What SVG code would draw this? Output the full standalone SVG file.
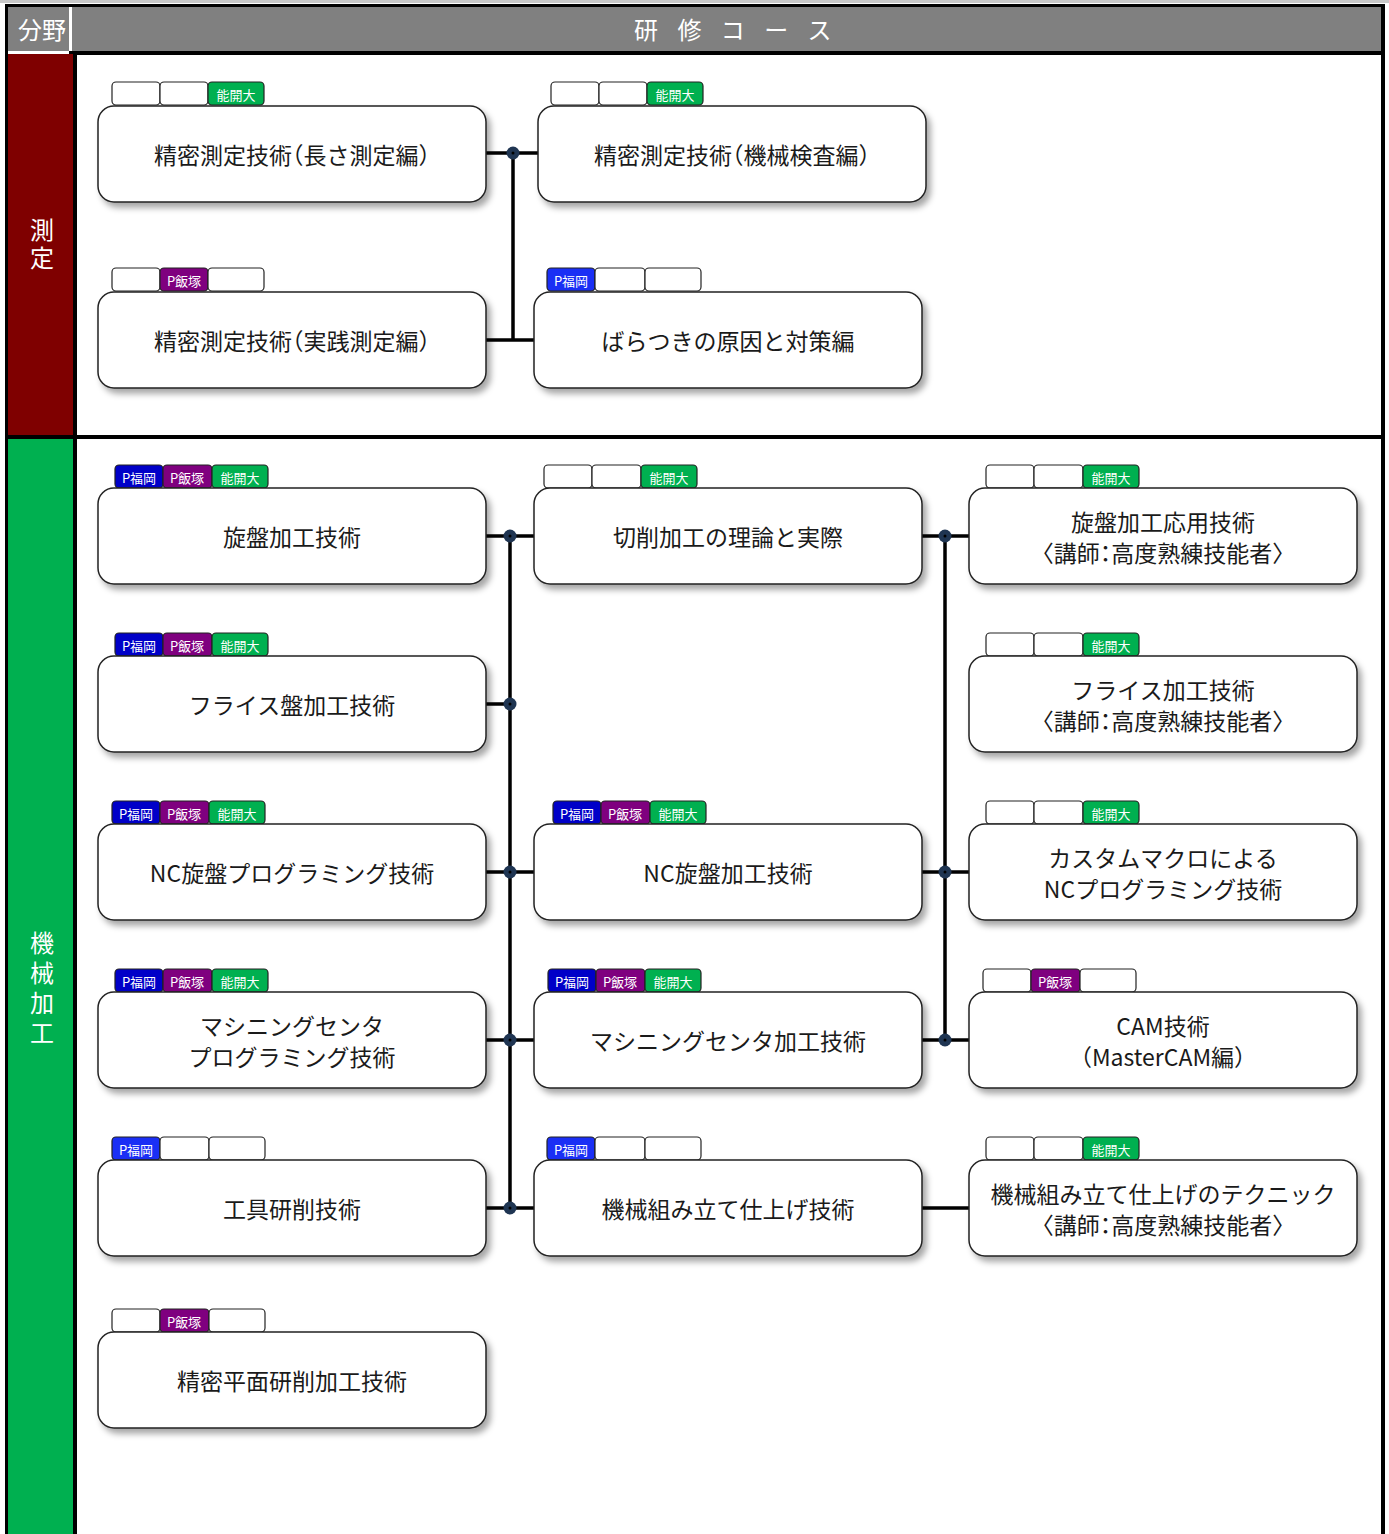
<svg xmlns="http://www.w3.org/2000/svg" width="1389" height="1534" viewBox="0 0 1389 1534">
<defs>
<filter id="sh" x="-10%" y="-20%" width="125%" height="150%">
<feDropShadow dx="4" dy="5" stdDeviation="3" flood-color="#000" flood-opacity="0.35"/>
</filter>
<style>
.node{fill:#fff;stroke:#222;stroke-width:1.5;filter:url(#sh)}
.lbl{font-family:"Noto Sans CJK JP","Noto Sans",sans-serif;font-size:23px;fill:#1a1a1a;text-anchor:middle;dominant-baseline:central}
.h{font-feature-settings:"halt"}
.tag{stroke:#222;stroke-width:1.2}
.tt{font-family:"Noto Sans CJK JP","Noto Sans",sans-serif;font-size:13px;fill:#fff;text-anchor:middle;dominant-baseline:central}
.e{fill:#fff}.g{fill:#00b050}.p{fill:#7f007f}.b{fill:#0000c8}.bb{fill:#1a2ff5}
.ln{stroke:#000;stroke-width:3.5;fill:none}
.dot{fill:#1f3552}
.cen{fill:#000}
.hd{font-family:"Noto Sans CJK JP","Noto Sans",sans-serif;font-size:24px;fill:#fff;dominant-baseline:central}
.vt{font-family:"Noto Sans CJK JP","Noto Sans",sans-serif;font-size:24px;fill:#fff;writing-mode:vertical-rl;text-anchor:middle}
</style>
</defs>
<g id="frame">
<rect x="0" y="0" width="1389" height="1534" fill="#fff"/>
<rect x="0" y="0" width="1389" height="3" fill="#c8c8c8"/>
<rect x="5" y="4" width="1380" height="1530" fill="#000"/>
<rect x="8" y="7" width="61" height="44" fill="#808080"/>
<rect x="69" y="7" width="3" height="44" fill="#fff"/>
<rect x="72" y="7" width="1309" height="44" fill="#808080"/>
<rect x="8" y="51" width="61" height="3" fill="#fff"/>
<rect x="8" y="54" width="65" height="381" fill="#7f0000"/>
<rect x="8" y="439" width="65" height="1095" fill="#00b050"/>
<rect x="77" y="55" width="1304" height="380" fill="#fff"/>
<rect x="77" y="439" width="1304" height="1095" fill="#fff"/>
<text class="hd" x="42" y="28" text-anchor="middle">分野</text>
<text class="hd" x="634" y="28" style="letter-spacing:7px">研 修 コ ー ス</text>
<text class="vt" x="42" y="246" style="letter-spacing:4px">測定</text>
<text class="vt" x="42" y="991" style="letter-spacing:6px">機械加工</text>
</g>
<g id="connectors">
<path class="ln" d="M486 153H538M513 153V340M486 340H534"/>
<path class="ln" d="M510 536V1208M486 536H534M486 704H510M486 872H534M486 1040H534M486 1208H534"/>
<path class="ln" d="M945 536V1040M922 536H969M922 872H969M922 1040H969M922 1208H969"/>
<g>
<circle class="dot" cx="513" cy="153" r="6.5"/><circle class="cen" cx="513" cy="153" r="1.5"/>
<circle class="dot" cx="510" cy="536" r="6.5"/><circle class="cen" cx="510" cy="536" r="1.5"/>
<circle class="dot" cx="510" cy="704" r="6.5"/><circle class="cen" cx="510" cy="704" r="1.5"/>
<circle class="dot" cx="510" cy="872" r="6.5"/><circle class="cen" cx="510" cy="872" r="1.5"/>
<circle class="dot" cx="510" cy="1040" r="6.5"/><circle class="cen" cx="510" cy="1040" r="1.5"/>
<circle class="dot" cx="510" cy="1208" r="6.5"/><circle class="cen" cx="510" cy="1208" r="1.5"/>
<circle class="dot" cx="945" cy="536" r="6.5"/><circle class="cen" cx="945" cy="536" r="1.5"/>
<circle class="dot" cx="945" cy="872" r="6.5"/><circle class="cen" cx="945" cy="872" r="1.5"/>
<circle class="dot" cx="945" cy="1040" r="6.5"/><circle class="cen" cx="945" cy="1040" r="1.5"/>
</g>
</g>

<g id="n-len">
<rect class="tag e" x="112" y="82" width="48" height="23" rx="4"/>
<rect class="tag e" x="160" y="82" width="48" height="23" rx="4"/>
<rect class="tag g" x="208" y="82" width="56" height="23" rx="4"/><text class="tt" x="236" y="94">能開大</text>
<rect class="node" x="98" y="106" width="388" height="96" rx="16"/>
<text class="lbl" x="292" y="154">精密測定技術<tspan class="h">（</tspan>長さ測定編<tspan class="h">）</tspan></text>
</g>
<g id="n-insp">
<rect class="tag e" x="551" y="82" width="48" height="23" rx="4"/>
<rect class="tag e" x="599" y="82" width="48" height="23" rx="4"/>
<rect class="tag g" x="647" y="82" width="56" height="23" rx="4"/><text class="tt" x="675" y="94">能開大</text>
<rect class="node" x="538" y="106" width="388" height="96" rx="16"/>
<text class="lbl" x="732" y="154">精密測定技術<tspan class="h">（</tspan>機械検査編<tspan class="h">）</tspan></text>
</g>
<g id="n-prac">
<rect class="tag e" x="112" y="268" width="48" height="23" rx="4"/>
<rect class="tag p" x="160" y="268" width="48" height="23" rx="4"/><text class="tt" x="184" y="280">P飯塚</text>
<rect class="tag e" x="208" y="268" width="56" height="23" rx="4"/>
<rect class="node" x="98" y="292" width="388" height="96" rx="16"/>
<text class="lbl" x="292" y="340">精密測定技術<tspan class="h">（</tspan>実践測定編<tspan class="h">）</tspan></text>
</g>
<g id="n-var">
<rect class="tag bb" x="547" y="268" width="48" height="23" rx="4"/><text class="tt" x="571" y="280">P福岡</text>
<rect class="tag e" x="595" y="268" width="50" height="23" rx="4"/>
<rect class="tag e" x="645" y="268" width="56" height="23" rx="4"/>
<rect class="node" x="534" y="292" width="388" height="96" rx="16"/>
<text class="lbl" x="728" y="340">ばらつきの原因と対策編</text>
</g>

<g id="n-lathe">
<rect class="tag b" x="115" y="465" width="48" height="23" rx="4"/><text class="tt" x="139" y="477">P福岡</text>
<rect class="tag p" x="163" y="465" width="49" height="23" rx="4"/><text class="tt" x="187" y="477">P飯塚</text>
<rect class="tag g" x="212" y="465" width="56" height="23" rx="4"/><text class="tt" x="240" y="477">能開大</text>
<rect class="node" x="98" y="488" width="388" height="96" rx="16"/>
<text class="lbl" x="292" y="536">旋盤加工技術</text>
</g>
<g id="n-mill">
<rect class="tag b" x="115" y="633" width="48" height="23" rx="4"/><text class="tt" x="139" y="645">P福岡</text>
<rect class="tag p" x="163" y="633" width="49" height="23" rx="4"/><text class="tt" x="187" y="645">P飯塚</text>
<rect class="tag g" x="212" y="633" width="56" height="23" rx="4"/><text class="tt" x="240" y="645">能開大</text>
<rect class="node" x="98" y="656" width="388" height="96" rx="16"/>
<text class="lbl" x="292" y="704">フライス盤加工技術</text>
</g>
<g id="n-ncprog">
<rect class="tag b" x="112" y="801" width="48" height="23" rx="4"/><text class="tt" x="136" y="813">P福岡</text>
<rect class="tag p" x="160" y="801" width="49" height="23" rx="4"/><text class="tt" x="184" y="813">P飯塚</text>
<rect class="tag g" x="209" y="801" width="56" height="23" rx="4"/><text class="tt" x="237" y="813">能開大</text>
<rect class="node" x="98" y="824" width="388" height="96" rx="16"/>
<text class="lbl" x="292" y="872">NC旋盤プログラミング技術</text>
</g>
<g id="n-mcprog">
<rect class="tag b" x="115" y="969" width="48" height="23" rx="4"/><text class="tt" x="139" y="981">P福岡</text>
<rect class="tag p" x="163" y="969" width="49" height="23" rx="4"/><text class="tt" x="187" y="981">P飯塚</text>
<rect class="tag g" x="212" y="969" width="56" height="23" rx="4"/><text class="tt" x="240" y="981">能開大</text>
<rect class="node" x="98" y="992" width="388" height="96" rx="16"/>
<text class="lbl" x="292" y="1025">マシニングセンタ</text>
<text class="lbl" x="292" y="1056">プログラミング技術</text>
</g>
<g id="n-tool">
<rect class="tag bb" x="112" y="1137" width="48" height="23" rx="4"/><text class="tt" x="136" y="1149">P福岡</text>
<rect class="tag e" x="160" y="1137" width="49" height="23" rx="4"/>
<rect class="tag e" x="209" y="1137" width="56" height="23" rx="4"/>
<rect class="node" x="98" y="1160" width="388" height="96" rx="16"/>
<text class="lbl" x="292" y="1208">工具研削技術</text>
</g>
<g id="n-surf">
<rect class="tag e" x="112" y="1309" width="48" height="23" rx="4"/>
<rect class="tag p" x="160" y="1309" width="49" height="23" rx="4"/><text class="tt" x="184" y="1321">P飯塚</text>
<rect class="tag e" x="209" y="1309" width="56" height="23" rx="4"/>
<rect class="node" x="98" y="1332" width="388" height="96" rx="16"/>
<text class="lbl" x="292" y="1380">精密平面研削加工技術</text>
</g>

<g id="n-cut">
<rect class="tag e" x="544" y="465" width="48" height="23" rx="4"/>
<rect class="tag e" x="592" y="465" width="49" height="23" rx="4"/>
<rect class="tag g" x="641" y="465" width="56" height="23" rx="4"/><text class="tt" x="669" y="477">能開大</text>
<rect class="node" x="534" y="488" width="388" height="96" rx="16"/>
<text class="lbl" x="728" y="536">切削加工の理論と実際</text>
</g>
<g id="n-nclathe">
<rect class="tag b" x="553" y="801" width="48" height="23" rx="4"/><text class="tt" x="577" y="813">P福岡</text>
<rect class="tag p" x="601" y="801" width="49" height="23" rx="4"/><text class="tt" x="625" y="813">P飯塚</text>
<rect class="tag g" x="650" y="801" width="56" height="23" rx="4"/><text class="tt" x="678" y="813">能開大</text>
<rect class="node" x="534" y="824" width="388" height="96" rx="16"/>
<text class="lbl" x="728" y="872">NC旋盤加工技術</text>
</g>
<g id="n-mc">
<rect class="tag b" x="548" y="969" width="48" height="23" rx="4"/><text class="tt" x="572" y="981">P福岡</text>
<rect class="tag p" x="596" y="969" width="49" height="23" rx="4"/><text class="tt" x="620" y="981">P飯塚</text>
<rect class="tag g" x="645" y="969" width="56" height="23" rx="4"/><text class="tt" x="673" y="981">能開大</text>
<rect class="node" x="534" y="992" width="388" height="96" rx="16"/>
<text class="lbl" x="728" y="1040">マシニングセンタ加工技術</text>
</g>
<g id="n-assy">
<rect class="tag bb" x="547" y="1137" width="48" height="23" rx="4"/><text class="tt" x="571" y="1149">P福岡</text>
<rect class="tag e" x="595" y="1137" width="50" height="23" rx="4"/>
<rect class="tag e" x="645" y="1137" width="56" height="23" rx="4"/>
<rect class="node" x="534" y="1160" width="388" height="96" rx="16"/>
<text class="lbl" x="728" y="1208">機械組み立て仕上げ技術</text>
</g>

<g id="n-latheadv">
<rect class="tag e" x="986" y="465" width="48" height="23" rx="4"/>
<rect class="tag e" x="1034" y="465" width="49" height="23" rx="4"/>
<rect class="tag g" x="1083" y="465" width="56" height="23" rx="4"/><text class="tt" x="1111" y="477">能開大</text>
<rect class="node" x="969" y="488" width="388" height="96" rx="16"/>
<text class="lbl" x="1163" y="521">旋盤加工応用技術</text>
<text class="lbl" x="1163" y="552">〈講師<tspan class="h">：</tspan>高度熟練技能者〉</text>
</g>
<g id="n-milladv">
<rect class="tag e" x="986" y="633" width="48" height="23" rx="4"/>
<rect class="tag e" x="1034" y="633" width="49" height="23" rx="4"/>
<rect class="tag g" x="1083" y="633" width="56" height="23" rx="4"/><text class="tt" x="1111" y="645">能開大</text>
<rect class="node" x="969" y="656" width="388" height="96" rx="16"/>
<text class="lbl" x="1163" y="689">フライス加工技術</text>
<text class="lbl" x="1163" y="720">〈講師<tspan class="h">：</tspan>高度熟練技能者〉</text>
</g>
<g id="n-macro">
<rect class="tag e" x="986" y="801" width="48" height="23" rx="4"/>
<rect class="tag e" x="1034" y="801" width="49" height="23" rx="4"/>
<rect class="tag g" x="1083" y="801" width="56" height="23" rx="4"/><text class="tt" x="1111" y="813">能開大</text>
<rect class="node" x="969" y="824" width="388" height="96" rx="16"/>
<text class="lbl" x="1163" y="857">カスタムマクロによる</text>
<text class="lbl" x="1163" y="888">NCプログラミング技術</text>
</g>
<g id="n-cam">
<rect class="tag e" x="983" y="969" width="48" height="23" rx="4"/>
<rect class="tag p" x="1031" y="969" width="49" height="23" rx="4"/><text class="tt" x="1055" y="981">P飯塚</text>
<rect class="tag e" x="1080" y="969" width="56" height="23" rx="4"/>
<rect class="node" x="969" y="992" width="388" height="96" rx="16"/>
<text class="lbl" x="1163" y="1025">CAM技術</text>
<text class="lbl" x="1163" y="1056">（MasterCAM編）</text>
</g>
<g id="n-tech">
<rect class="tag e" x="986" y="1137" width="48" height="23" rx="4"/>
<rect class="tag e" x="1034" y="1137" width="49" height="23" rx="4"/>
<rect class="tag g" x="1083" y="1137" width="56" height="23" rx="4"/><text class="tt" x="1111" y="1149">能開大</text>
<rect class="node" x="969" y="1160" width="388" height="96" rx="16"/>
<text class="lbl" x="1163" y="1193">機械組み立て仕上げのテクニック</text>
<text class="lbl" x="1163" y="1224">〈講師<tspan class="h">：</tspan>高度熟練技能者〉</text>
</g>
</svg>
